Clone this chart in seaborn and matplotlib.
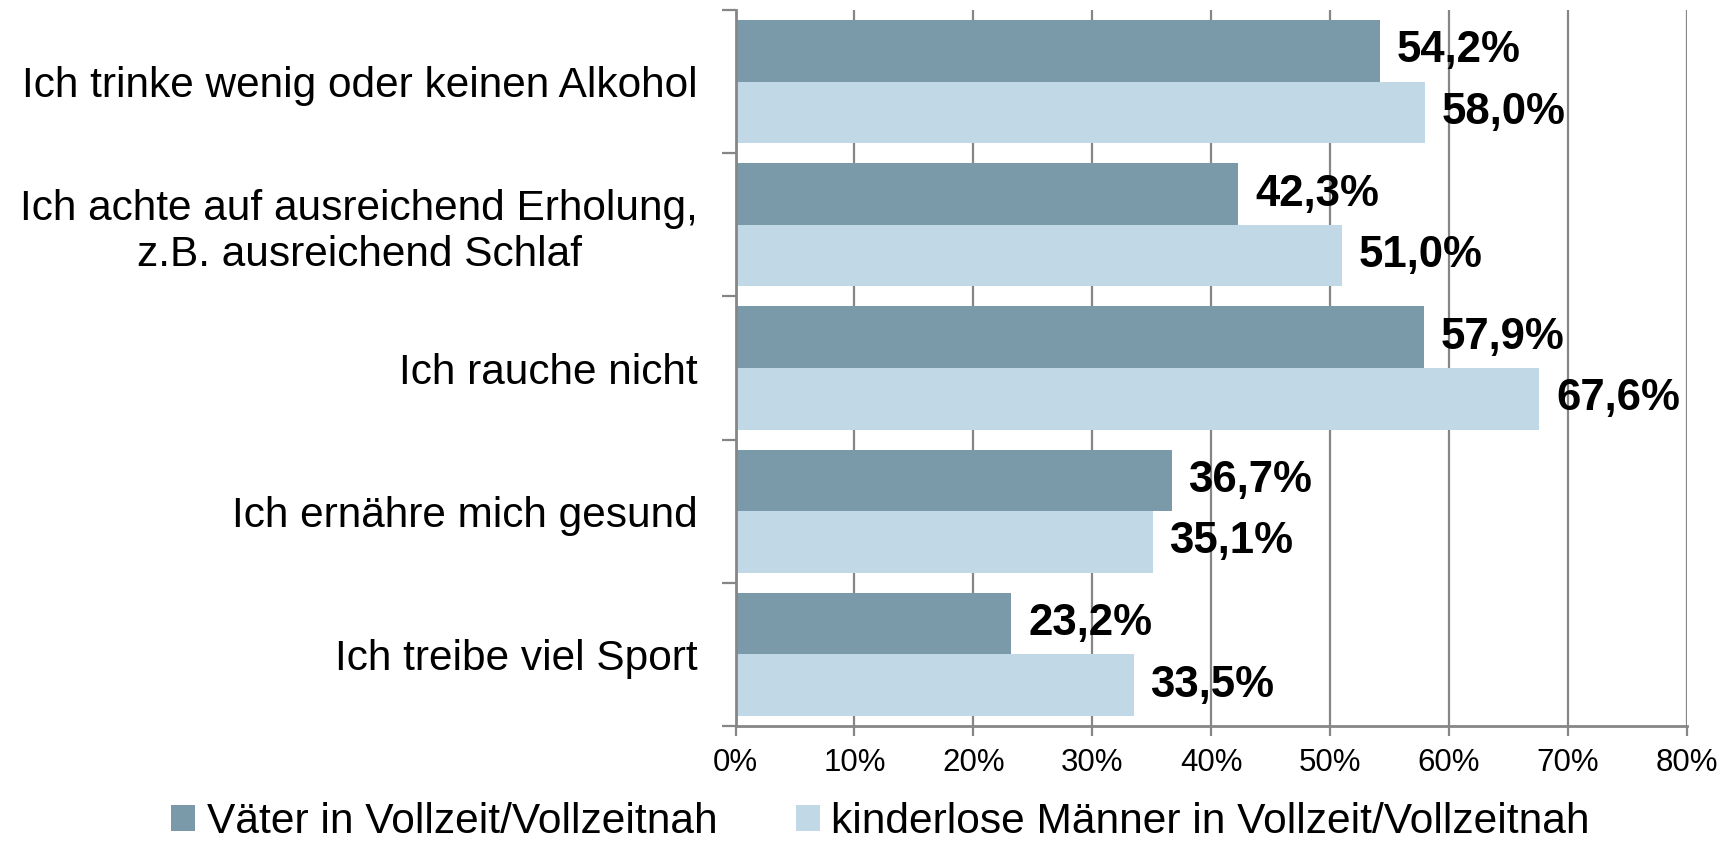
import matplotlib
matplotlib.use("Agg")
import matplotlib.pyplot as plt
import seaborn as sns
import pandas as pd
import numpy as np
from matplotlib.ticker import FixedLocator, FuncFormatter

categories = [
    "Ich trinke wenig oder keinen Alkohol",
    "Ich achte auf ausreichend Erholung,\nz.B. ausreichend Schlaf",
    "Ich rauche nicht",
    "Ich ernähre mich gesund",
    "Ich treibe viel Sport",
]
series_names = ["Väter in Vollzeit/Vollzeitnah", "kinderlose Männer in Vollzeit/Vollzeitnah"]
vaeter = [54.2, 42.3, 57.9, 36.7, 23.2]
kinderlose = [58.0, 51.0, 67.6, 35.1, 33.5]
x_ticks = [0, 10, 20, 30, 40, 50, 60, 70, 80]
colors = ["#7A99A9", "#C1D9E6"]

df = pd.DataFrame({
    "Kategorie": categories * 2,
    "Gruppe": [series_names[0]] * len(categories) + [series_names[1]] * len(categories),
    "Wert": vaeter + kinderlose,
})

sns.set_theme(style="white")
plt.rcParams["font.family"] = ["Liberation Sans", "DejaVu Sans"]
plt.rcParams["text.color"] = "black"
plt.rcParams["xtick.labelcolor"] = "black"
plt.rcParams["ytick.labelcolor"] = "black"

fig = plt.figure(figsize=(17.28, 8.42), dpi=100)
ax = fig.add_axes([735.5 / 1728, 1 - 726 / 842, (1686.7 - 735.5) / 1728, (726 - 10) / 842])

sns.barplot(data=df, y="Kategorie", x="Wert", hue="Gruppe", order=categories,
            hue_order=series_names, palette=colors, orient="h", width=0.86,
            linewidth=0, saturation=1, ax=ax, legend=True)

grid_c = "#868686"
ax.set_xlim(0, 80)
ax.set_ylim(4.5, -0.5)
ax.xaxis.set_major_locator(FixedLocator(x_ticks))
ax.xaxis.set_major_formatter(FuncFormatter(lambda v, p: f"{int(v)}%"))
ax.xaxis.grid(True, color=grid_c, linewidth=1.6)
ax.yaxis.grid(False)
ax.set_axisbelow(True)
ax.set_xlabel("")
ax.set_ylabel("")

for s in ["top", "right"]:
    ax.spines[s].set_visible(False)
for s in ["left", "bottom"]:
    ax.spines[s].set_color(grid_c)
    ax.spines[s].set_linewidth(2)

ax.tick_params(axis="x", which="major", length=7.5, width=1.6, color=grid_c,
               direction="out", labelsize=22.5, pad=8, bottom=True, labelcolor="black")
ax.tick_params(axis="y", which="major", length=0, labelsize=30.5, pad=27, labelcolor="black")
ax.yaxis.set_minor_locator(FixedLocator(np.arange(-0.5, 5, 1.0)))
ax.tick_params(axis="y", which="minor", length=10, width=1.6, color=grid_c,
               direction="out", left=True)
for lbl in ax.get_yticklabels():
    lbl.set_multialignment("center")

for cont in ax.containers:
    labels = [f"{b.get_width():.1f}%".replace(".", ",") for b in cont]
    ax.bar_label(cont, labels=labels, padding=12, fontsize=31.5, fontweight="bold",
                 color="black")

handles, labs = ax.get_legend_handles_labels()
ax.get_legend().remove()
leg = fig.legend(handles, labs, loc="center", bbox_to_anchor=(0.5096, 1 - 822 / 842),
                 ncol=2, frameon=False, fontsize=30.6, handlelength=0.55, handleheight=0.55,
                 handletextpad=0.28, columnspacing=1.86, borderaxespad=0)
for t in leg.get_texts():
    t.set_color("black")

fig.savefig("out.png", dpi=100)
